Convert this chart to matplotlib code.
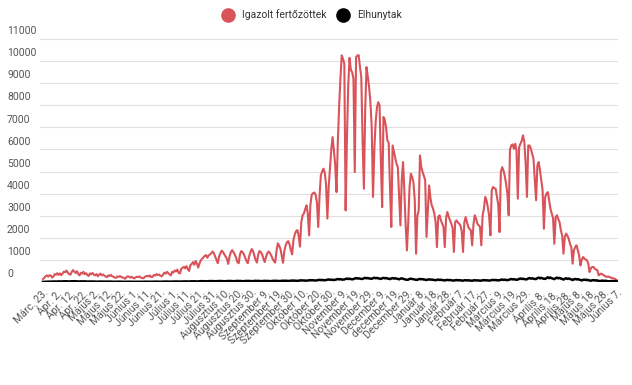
import numpy as np
import matplotlib
matplotlib.use('Agg')
import matplotlib.pyplot as plt
from matplotlib.lines import Line2D

plt.rcParams['font.family'] = ['Roboto', 'DejaVu Sans']

# daily confirmed cases (Márc. 23. - Június 7.), one row per week
cases = [
    140, 190, 260, 300, 240, 310, 290,
    200, 250, 360, 330, 400, 320, 390,
    310, 380, 470, 440, 520, 430, 360,
    330, 450, 540, 470, 410, 490, 360,
    300, 420, 380, 460, 350, 400, 320,
    270, 390, 350, 410, 330, 300, 360,
    260, 330, 380, 300, 340, 290, 250,
    220, 300, 270, 320, 260, 240, 200,
    190, 250, 230, 270, 220, 210, 180,
    150, 220, 260, 230, 200, 240, 190,
    160, 210, 240, 220, 250, 200, 180,
    170, 230, 260, 280, 250, 300, 220,
    230, 320, 290, 360, 310, 340, 280,
    260, 330, 420, 380, 460, 400, 350,
    300, 460, 430, 520, 480, 560, 410,
    390, 600, 640, 690, 620, 720, 580,
    500, 760, 820, 900, 780, 950, 830,
    650, 850, 980, 1050, 1120, 1180, 1220,
    1100, 1200, 1250, 1300, 1380, 1300, 1150,
    1000, 850, 1150, 1300, 1420, 1350, 1250,
    1150, 1050, 820, 1150, 1350, 1440, 1350,
    1250, 1100, 900, 850, 1250, 1400, 1350,
    1250, 1100, 950, 850, 1150, 1350, 1490,
    1400, 1200, 1000, 880, 1250, 1400, 1350,
    1250, 1050, 900, 1150, 1300, 1380, 1300,
    1200, 1050, 950, 880, 1400, 1750, 1650,
    1500, 1200, 870, 1400, 1650, 1800, 1850,
    1700, 1450, 1250, 1900, 2150, 2300, 2350,
    2100, 1600, 2700, 3020, 3100, 3300, 3470,
    3100, 2110, 3500, 3950, 4020, 4050, 3950,
    3600, 2490, 3900, 4830, 5000, 5130, 4950,
    4400, 2870, 4300, 5130, 6000, 6560, 5960,
    5300, 4070, 6300, 7920, 9200, 10260, 10100,
    9880, 3240, 6500, 8900, 10150, 9600, 9500,
    9200, 4980, 10180, 10250, 10270, 9730, 9280,
    6410, 4220, 7800, 9730, 9300, 8820, 8140,
    7000, 3850, 6000, 7240, 7900, 8140, 8000,
    5500, 3390, 7470, 7350, 7000, 6410, 6300,
    4300, 2490, 6180, 5900, 5600, 5350, 5200,
    3900, 2560, 4600, 5430, 4150, 2600, 1430,
    2700, 4300, 4900, 4750, 4500, 3700, 1280,
    3000, 3240, 5730, 5200, 4980, 4800, 4600,
    2040, 3240, 4370, 3800, 3470, 3320, 3100,
    2700, 1580, 2940, 3020, 2800, 2640, 2500,
    1580, 2900, 3170, 2950, 2790, 2640, 2450,
    1360, 2710, 2790, 2700, 2640, 2560, 2300,
    1360, 2700, 2940, 2710, 2490, 2400, 2340,
    1660, 2600, 3020, 2870, 2640, 2560, 2500,
    1660, 3000, 3320, 3850, 3700, 3390, 3000,
    2110, 4150, 4300, 4250, 4220, 3850, 3500,
    2260, 4980, 5200, 5050, 4800, 4450, 4000,
    3020, 6000, 6180, 6230, 6030, 6260, 5960,
    3770, 6110, 6260, 6400, 6640, 6340, 5360,
    3850, 6180, 6180, 6030, 5800, 5580, 4670,
    3700, 5280, 5430, 5050, 4600, 4150, 2410,
    3850, 4000, 4070, 3700, 3320, 3100, 2900,
    1730, 2940, 3020, 2850, 2710, 2340, 2110,
    1280, 2040, 2190, 2100, 1960, 1730, 1580,
    830, 1450, 1580, 1660, 1430, 1210, 750,
    1000, 1130, 1060, 1020, 980, 830, 450,
    620, 680, 680, 600, 560, 530, 300,
    350, 380, 340, 300, 260, 230, 250,
    230, 210, 180, 170, 150, 120, 75,
]

# daily deaths
deaths = [
    5, 8, 10, 12, 15, 18, 14, 20, 22, 25, 18, 24, 28, 22,
    25, 30, 27, 33, 29, 31, 20, 26, 35, 30, 38, 28, 32, 24,
    22, 30, 27, 25, 29, 21, 18,
    20, 26, 24, 19, 22, 17, 15, 14, 20, 18, 23, 16, 15, 12,
    13, 17, 19, 15, 14, 11, 10, 12, 15, 14, 16, 13, 11, 9,
    10, 14, 12, 15, 11, 13, 8,
    9, 12, 14, 11, 13, 10, 8, 10, 13, 15, 12, 14, 11, 9,
    12, 16, 14, 18, 15, 13, 11, 14, 18, 20, 17, 22, 16, 15,
    17, 22, 25, 20, 24, 19, 18,
    20, 26, 24, 28, 23, 27, 21, 22, 30, 33, 28, 35, 26, 24,
    27, 35, 38, 40, 34, 37, 30, 32, 40, 42, 38, 45, 36, 33,
    35, 42, 46, 40, 44, 38, 34,
    36, 44, 48, 41, 47, 39, 35, 38, 45, 50, 43, 48, 40, 36,
    37, 46, 52, 44, 49, 42, 38, 40, 48, 55, 46, 51, 44, 39,
    41, 47, 53, 45, 50, 43, 40,
    42, 50, 56, 48, 54, 46, 43, 45, 55, 60, 52, 58, 50, 47,
    50, 60, 68, 58, 64, 55, 52, 58, 70, 76, 65, 72, 62, 60,
    66, 78, 85, 74, 82, 70, 68,
    75, 90, 98, 86, 94, 82, 80, 88, 105, 115, 100, 110, 96, 92,
    100, 120, 135, 118, 128, 112, 108, 115, 140, 155, 135, 150, 130, 125,
    130, 160, 175, 155, 168, 150, 140,
    140, 170, 190, 165, 180, 160, 150, 145, 175, 195, 170, 185, 165, 155,
    140, 170, 188, 165, 180, 158, 150, 130, 160, 178, 155, 170, 150, 140,
    120, 150, 165, 145, 120, 110, 100,
    105, 140, 150, 135, 128, 115, 98, 100, 125, 140, 122, 130, 112, 105,
    90, 110, 120, 105, 112, 98, 92, 80, 98, 108, 95, 100, 88, 82,
    70, 88, 95, 84, 90, 78, 72,
    65, 80, 88, 76, 82, 72, 66, 60, 75, 82, 70, 78, 68, 62,
    58, 72, 80, 68, 75, 66, 60, 62, 78, 85, 74, 80, 70, 66,
    70, 88, 96, 84, 92, 80, 75,
    80, 100, 112, 96, 106, 92, 86, 95, 120, 135, 115, 128, 110, 102,
    110, 140, 160, 135, 150, 130, 120, 125, 160, 180, 150, 170, 148, 135,
    135, 175, 200, 165, 190, 160, 148,
    140, 180, 215, 175, 200, 170, 150, 130, 170, 200, 165, 185, 155, 140,
    110, 145, 170, 140, 160, 135, 120, 90, 120, 140, 115, 130, 108, 95,
    70, 95, 110, 90, 100, 82, 72,
    55, 75, 85, 70, 78, 62, 55, 40, 55, 62, 50, 56, 45, 38,
    28, 38, 44, 35, 40, 30, 25,
]

tick_labels = [
    'Márc. 23.', 'Ápr. 2.', 'Ápr. 12.', 'Ápr. 22.', 'Május 2.', 'Május 12.',
    'Május 22.', 'Június 1.', 'Június 11.', 'Június 21.', 'Július 1.',
    'Július 11.', 'Július 21.', 'Július 31.', 'Augusztus 10.', 'Augusztus 20.',
    'Augusztus 30.', 'Szeptember 9.', 'Szeptember 19.', 'Szeptember 30.',
    'Október 10.', 'Október 20.', 'Október 30.', 'November 9.', 'November 19.',
    'November 29.', 'December 9.', 'december 19.', 'December 29.', 'Január 8.',
    'Január 18.', 'Január 28.', 'Február 7.', 'Február 17.', 'Február 27.',
    'Március 9.', 'Március 19.', 'Március 29.', 'Április 8.', 'Április 18.',
    'Április 28.', 'Május 8.', 'Május 18.', 'Május 28.', 'Június 7.',
]
y_ticks = list(range(0, 11001, 1000))

red = '#d9535a'
grey_text = '#555555'

fig = plt.figure(figsize=(6.32, 3.85), dpi=100)
ax = fig.add_axes([40 / 632, 103 / 385, 578 / 632, 243 / 385])

x = np.arange(len(cases))
ax.plot(x, cases, color=red, lw=1.5, zorder=3)
ax.plot(x, deaths, color='black', lw=1.8, zorder=4)

ax.set_xlim(-2.3, len(cases) - 1 + 0.8)
ax.set_ylim(0, 11000)

ax.set_yticks(y_ticks)
ax.yaxis.grid(True, color='#e0e0e0', lw=0.8)
ax.set_axisbelow(True)
ax.tick_params(axis='y', length=0, labelleft=False)
for v in y_ticks:
    ax.annotate(str(v), xy=(7 / 632, v), xycoords=('figure fraction', 'data'),
                xytext=(0, 2), textcoords='offset points', va='bottom', ha='left',
                fontsize=7.5, color=grey_text, annotation_clip=False)

ax.set_xticks(x[::10])
ax.set_xticklabels(tick_labels, rotation=45, ha='right', rotation_mode='anchor',
                   fontsize=7.5, color=grey_text)
ax.tick_params(axis='x', length=0, pad=4)

for s in ax.spines.values():
    s.set_visible(False)

handles = [
    Line2D([], [], marker='o', ls='', color=red, markersize=9.5),
    Line2D([], [], marker='o', ls='', color='black', markersize=9.5),
]
fig.legend(handles, ['Igazolt fertőzöttek', 'Elhunytak'], loc='upper center',
           bbox_to_anchor=(0.49, 1.0), ncol=2, frameon=False, fontsize=7.5,
           handletextpad=0.3, columnspacing=0.6, labelcolor='#333333')

fig.savefig('out.png', dpi=100)
